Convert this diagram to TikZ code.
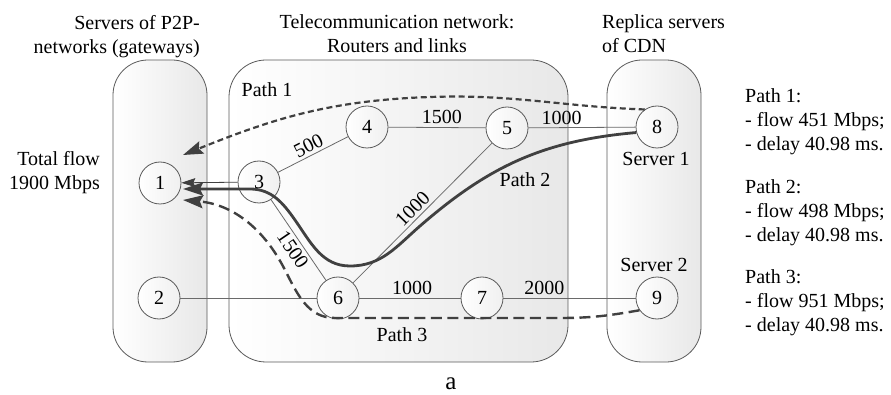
\documentclass[tikz,border=0pt]{standalone}
\usepackage{fontspec}
\setmainfont{Liberation Serif}
\usetikzlibrary{arrows.meta,calc}
\definecolor{rim}{HTML}{5A5A5A}
\definecolor{linkc}{HTML}{6A6A6A}
\definecolor{pathc}{HTML}{404040}
\tikzset{
  every node/.style={font=\fontsize{20}{24}\selectfont},
  zone/.style={draw=rim, line width=0.8pt, left color=white, right color=black!9},
  router/.style={circle, draw=rim, line width=0.8pt, minimum size=42pt, inner sep=0pt,
                 left color=white, right color=black!6},
  link/.style={draw=linkc, line width=0.8pt},
  elabel/.style={inner sep=3pt},
  headbig/.style={-{Stealth[length=20pt, width=13pt, inset=3pt]}},
  pone/.style={draw=pathc, line width=2.2pt, dash pattern=on 6pt off 3.5pt, headbig},
  ptwo/.style={draw=pathc, line width=2.8pt, headbig},
  pthree/.style={draw=pathc, line width=2.4pt, dash pattern=on 11pt off 5.5pt, headbig},
  txt/.style={inner sep=0pt}
}
\begin{document}
\begin{tikzpicture}[x=1pt, y=1pt]
\useasboundingbox (0,0) rectangle (891,-395);

% the three areas
\path[zone, rounded corners=35pt] (113,-60) rectangle (207,-362);
\path[zone, rounded corners=37pt] (229,-60) rectangle (568,-362);
\path[zone, rounded corners=35pt] (607,-60) rectangle (701,-362);

% area titles
\node[txt, align=right, anchor=north east] (tp2p) at (200,-15) {Servers of P2P-\\networks (gateways)};
\node[txt, align=center, anchor=north] (tnet) at (397,-14) {Telecommunication network:\\Routers and links};
\node[txt, align=left, anchor=north west] (tcdn) at (602,-14) {Replica servers\\of CDN};
\node[txt, align=right, anchor=north east] (ttot) at (100,-151) {Total flow\\1900 Mbps};

% routers and servers
\node[router] (n1) at (160,-183) {1};
\node[router] (n2) at (159,-298) {2};
\node[router] (n3) at (259,-182) {3};
\node[router] (n4) at (367,-127) {4};
\node[router] (n5) at (507,-128) {5};
\node[router] (n6) at (338,-298) {6};
\node[router] (n7) at (482,-298) {7};
\node[router] (n8) at (657,-127) {8};
\node[router] (n9) at (657,-298) {9};

% links with capacities
\draw[link] (n2) -- (n6);
\draw[link] (n3) -- node[elabel, sloped, above, pos=0.5] {500} (n4);
\draw[link] (n4) -- node[elabel, above, pos=0.55] {1500} (n5);
\draw[link] (n5) -- node[elabel, above, pos=0.31] {1000} (n8);
\draw[link] (n3) -- node[elabel, sloped, below, pos=0.55] {1500} (n6);
\draw[link] (n6) -- node[elabel, sloped, above, pos=0.48] {1000} (n5);
\draw[link] (n6) -- node[elabel, above, pos=0.52] {1000} (n7);
\draw[link] (n7) -- node[elabel, above, pos=0.31] {2000} (n9);
\draw[link, draw=pathc, -{Stealth[length=14pt, width=9pt, inset=2pt]}] (n3) -- (n1);

% labels
\node[txt] (lp1) at (267,-90) {Path 1};
\node[txt] (lp2) at (525,-180) {Path 2};
\node[txt] (lp3) at (402,-335) {Path 3};
\node[txt] (ls1) at (656,-159) {Server 1};
\node[txt] (ls2) at (654,-265) {Server 2};
\node[txt, font=\fontsize{25}{28}\selectfont] (lsub) at (451,-384) {a};

% routes
\coordinate (e1) at ($(n1)+(23,28)$);
\coordinate (e2) at ($(n1)+(23,-6)$);
\coordinate (e3) at ($(n1)+(23,-17)$);
\draw[pone] (n8.125) to[out=178, in=2] (430,-97) to[out=182, in=22] (e1);
\draw[ptwo] (n8.195) to[out=185, in=41] (420,-226) to[out=221, in=0] (350,-266)
  to[out=180, in=-55] (295,-220) to[out=125, in=0] (250,-189) -- (e2);
\draw[pthree] (n9.215) to[out=190, in=0] (560,-318) -- (335,-318)
  to[out=180, in=-63] (285,-270) to[out=117, in=-5] (e3);

% path summary
\node[txt, align=left, anchor=north west] (s1) at (745,-88) {Path 1:\\- flow 451 Mbps;\\- delay 40.98 ms.};
\node[txt, align=left, anchor=north west] (s2) at (745,-179) {Path 2:\\- flow 498 Mbps;\\- delay 40.98 ms.};
\node[txt, align=left, anchor=north west] (s3) at (745,-269) {Path 3:\\- flow 951 Mbps;\\- delay 40.98 ms.};
\end{tikzpicture}
\end{document}
